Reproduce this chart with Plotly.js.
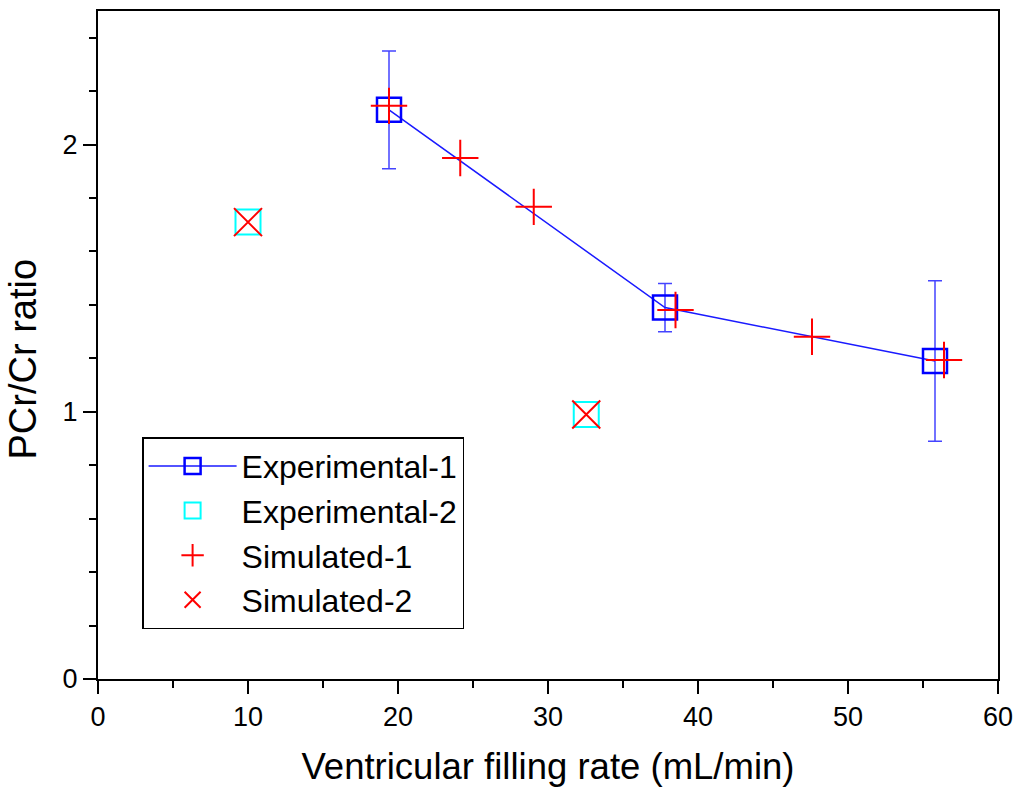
<!DOCTYPE html>
<html>
<head>
<meta charset="utf-8">
<script src="https://cdn.plot.ly/plotly-3.0.1.min.js"></script>
<style>html,body{margin:0;padding:0;background:#fff;}#chart{width:1024px;height:795px;}</style>
</head>
<body>
<div id="chart"></div>
<script>
const exp1X = [19.4, 37.8, 55.8];
const exp1Y = [2.13, 1.39, 1.19];
const exp1Err = [0.22, 0.09, 0.30];
const exp2X = [10.0, 32.55];
const exp2Y = [1.71, 0.99];
const sim1X = [19.4, 24.15, 29.05, 38.5, 47.6, 56.4];
const sim1Y = [2.145, 1.95, 1.767, 1.381, 1.281, 1.194];
const sim2X = [10.0, 32.55];
const sim2Y = [1.71, 0.99];
const names = ['Experimental-1', 'Experimental-2', 'Simulated-1', 'Simulated-2'];
const xTitle = 'Ventricular filling rate (mL/min)';
const yTitle = 'PCr/Cr ratio';
const fontFam = '"Liberation Sans", Arial, sans-serif';

const traces = [
  {
    x: exp1X, y: exp1Y, name: names[0], mode: 'lines+markers', type: 'scatter',
    line: {color: '#1a1aff', width: 1.5},
    marker: {symbol: 'square-open', size: 24, color: '#0000ff', line: {width: 2.5, color: '#0000ff'}},
    error_y: {type: 'data', array: exp1Err, visible: true, color: '#4444ff', thickness: 1.5, width: 7}
  },
  {
    x: exp2X, y: exp2Y, name: names[1], mode: 'markers', type: 'scatter',
    marker: {symbol: 'square-open', size: 25, color: '#00ffff', line: {width: 2, color: '#00ffff'}}
  },
  {
    x: sim1X, y: sim1Y, name: names[2], mode: 'markers', type: 'scatter',
    marker: {symbol: 'cross-thin-open', size: 26, color: '#ff0000', line: {width: 2, color: '#ff0000'}}
  },
  {
    x: sim2X, y: sim2Y, name: names[3], mode: 'markers', type: 'scatter',
    marker: {symbol: 'x-thin-open', size: 28, color: '#ff0000', line: {width: 2, color: '#ff0000'}}
  }
];

const layout = {
  width: 1024, height: 795,
  margin: {l: 98, r: 26, t: 11, b: 116},
  paper_bgcolor: '#fff', plot_bgcolor: '#fff',
  font: {family: fontFam, color: '#000'},
  showlegend: true,
  legend: {
    x: 0.049, y: 0.362, xanchor: 'left', yanchor: 'top',
    bordercolor: '#000', borderwidth: 1.5, bgcolor: '#fff',
    font: {size: 32, family: fontFam, color: '#000'},
    itemwidth: 88
  },
  xaxis: {
    range: [0, 60], dtick: 10, tick0: 0,
    showgrid: false, zeroline: false,
    showline: true, linecolor: '#000', linewidth: 2, mirror: true,
    ticks: 'outside', ticklen: 13, tickwidth: 2, tickcolor: '#000',
    minor: {dtick: 5, ticks: 'outside', ticklen: 7, tickwidth: 2, tickcolor: '#000'},
    tickfont: {size: 27, family: fontFam, color: '#000'},
    title: {text: xTitle, font: {size: 36.5, family: fontFam, color: '#000'}, standoff: 22}
  },
  yaxis: {
    range: [0, 2.5], dtick: 1, tick0: 0,
    showgrid: false, zeroline: false,
    showline: true, linecolor: '#000', linewidth: 2, mirror: true,
    ticks: 'outside', ticklen: 13, tickwidth: 2, tickcolor: '#000',
    minor: {dtick: 0.2, ticks: 'outside', ticklen: 7, tickwidth: 2, tickcolor: '#000'},
    tickfont: {size: 27, family: fontFam, color: '#000'}
  },
  annotations: [{
    text: yTitle, xref: 'paper', yref: 'paper',
    x: -0.0828, y: 0.479, xanchor: 'center', yanchor: 'middle',
    textangle: -90, showarrow: false,
    font: {size: 38, family: fontFam, color: '#000'}
  }]
};

Plotly.newPlot('chart', traces, layout, {displayModeBar: false, staticPlot: true});
</script>
</body>
</html>
